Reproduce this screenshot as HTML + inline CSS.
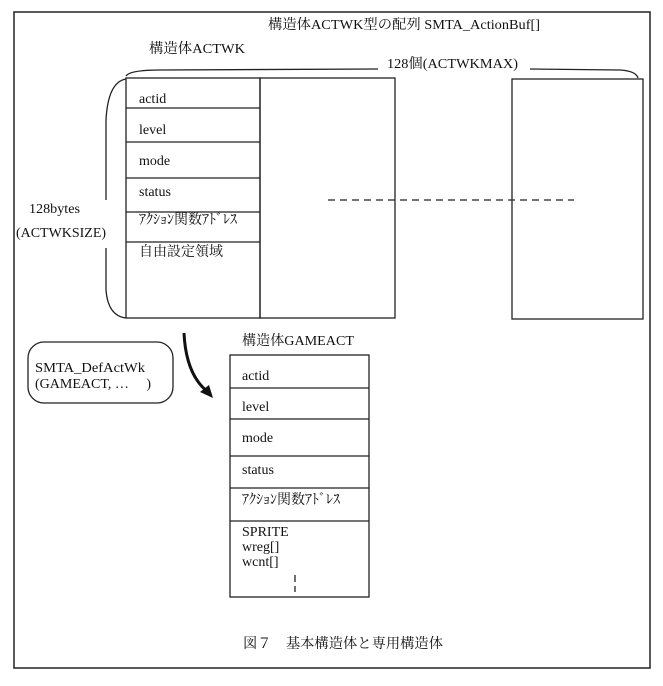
<!DOCTYPE html>
<html><head><meta charset="utf-8"><style>
html,body{margin:0;padding:0;background:#fff;}
svg{display:block;}
text{font-family:"Liberation Serif","Noto Serif CJK SC","Noto Sans CJK JP",serif;font-size:14px;fill:#111;}
</style></head><body>
<svg width="663" height="686" viewBox="0 0 663 686" xmlns="http://www.w3.org/2000/svg">
<rect x="14" y="12" width="636" height="656" fill="none" stroke="#222" stroke-width="1.5"/>
<text x="268" y="29" textLength="272" lengthAdjust="spacingAndGlyphs">構造体ACTWK型の配列 SMTA_ActionBuf[]</text>
<text x="149" y="53" textLength="96" lengthAdjust="spacingAndGlyphs">構造体ACTWK</text>
<text x="387" y="68" textLength="131" lengthAdjust="spacingAndGlyphs">128個(ACTWKMAX)</text>
<path d="M126 76 Q130 70 160 70 L378 69 M530 69 L620 70 Q636 71 638 78" fill="none" stroke="#222" stroke-width="1.3"/>
<path d="M126 79 Q108 82 106 120 L106 200 M106 248 L106 290 Q108 316 126 318" fill="none" stroke="#222" stroke-width="1.3"/>
<text x="29" y="213" textLength="51" lengthAdjust="spacingAndGlyphs">128bytes</text>
<text x="16" y="237" textLength="90" lengthAdjust="spacingAndGlyphs">(ACTWKSIZE)</text>
<g fill="none" stroke="#222" stroke-width="1.3">
<rect x="126" y="78" width="134" height="240"/>
<rect x="260" y="78" width="135" height="240"/>
<rect x="512" y="79" width="131" height="240"/>
<path d="M126 108H260M126 142H260M126 178H260M126 212H260M126 242H260"/>
<path d="M328 200H574" stroke-dasharray="7,5"/>
</g>
<g>
<text x="139" y="103">actid</text>
<text x="139" y="134">level</text>
<text x="139" y="165">mode</text>
<text x="139" y="196">status</text>
<text x="139" y="224" font-size="12" textLength="98" lengthAdjust="spacingAndGlyphs">ｱｸｼｮﾝ関数ｱﾄﾞﾚｽ</text>
<text x="139" y="256" textLength="84" lengthAdjust="spacingAndGlyphs">自由設定領域</text>
</g>
<rect x="28" y="342" width="145" height="61" rx="16" fill="none" stroke="#222" stroke-width="1.3"/>
<text x="35" y="372" textLength="110" lengthAdjust="spacingAndGlyphs">SMTA_DefActWk</text>
<text x="35" y="388">(GAMEACT, …　 )</text>
<path d="M184 333 Q186 375 208 392" fill="none" stroke="#111" stroke-width="3"/>
<path d="M213 398 L200 392 L209 385 Z" fill="#111"/>
<text x="242" y="345" textLength="112" lengthAdjust="spacingAndGlyphs">構造体GAMEACT</text>
<g fill="none" stroke="#222" stroke-width="1.3">
<rect x="230" y="355" width="139" height="242"/>
<path d="M230 388H369M230 419H369M230 456H369M230 488H369M230 521H369"/>
<path d="M295 575V582M295 586V592"/>
</g>
<text x="242" y="380">actid</text>
<text x="242" y="411">level</text>
<text x="242" y="442">mode</text>
<text x="242" y="474">status</text>
<text x="242" y="504" font-size="12" textLength="98" lengthAdjust="spacingAndGlyphs">ｱｸｼｮﾝ関数ｱﾄﾞﾚｽ</text>
<text x="242" y="536">SPRITE</text>
<text x="242" y="551">wreg[]</text>
<text x="242" y="566">wcnt[]</text>
<text x="243" y="648" textLength="200" lengthAdjust="spacingAndGlyphs">図７　基本構造体と専用構造体</text>
</svg>
</body></html>
